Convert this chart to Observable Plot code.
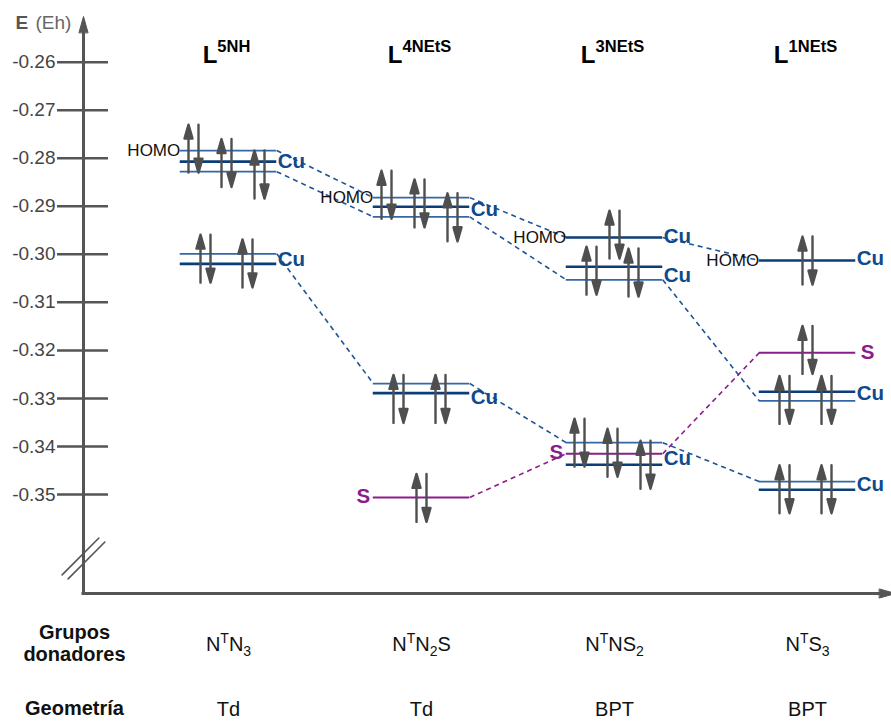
<!DOCTYPE html>
<html><head><meta charset="utf-8">
<script src="https://cdn.jsdelivr.net/npm/d3@7"></script>
<script src="https://cdn.jsdelivr.net/npm/@observablehq/plot@0.6"></script>
<style>html,body{margin:0;padding:0;background:#fff;} #chart svg{display:block;}</style>
</head><body><div id="chart"></div>
<script>
// ---------- data ----------
const ligandSuperscripts = ["5NH", "4NEtS", "3NEtS", "1NEtS"];
const donorGroups = ["N^{T}N_{3}", "N^{T}N_{2}S", "N^{T}NS_{2}", "N^{T}S_{3}"];
const geometries = ["Td", "Td", "BPT", "BPT"];
const yTicks = [-0.26, -0.27, -0.28, -0.29, -0.30, -0.31, -0.32, -0.33, -0.34, -0.35];

// orbital levels (column index, energy in Eh, kind)
const levelCol    = [0, 0, 0, 0, 0,   1, 1, 1, 1, 1, 1,   2, 2, 2, 2, 2, 2,   3, 3, 3, 3, 3, 3];
const levelEnergy = [-0.2784, -0.2807, -0.2828, -0.2999, -0.3020,
                     -0.2882, -0.2901, -0.2922, -0.3269, -0.3289, -0.3506,
                     -0.2965, -0.3026, -0.3053, -0.3392, -0.3415, -0.3438,
                     -0.3013, -0.3205, -0.3286, -0.3305, -0.3473, -0.3490];
const levelKind   = ["light", "dark", "light", "light", "dark",
                     "light", "dark", "light", "light", "dark", "S",
                     "dark", "dark", "light", "light", "S", "dark",
                     "dark", "S", "dark", "light", "light", "dark"];

// correlation lines between levels (indices into the level arrays)
const linkFrom = [0, 2, 3, 5, 7, 8, 11, 13, 14, 10, 15];
const linkTo   = [5, 7, 8, 11, 13, 14, 17, 20, 21, 15, 18];

// electron pairs (column, energy of pair centre, group of pairs)
const pairCol    = [0, 0, 0,  0, 0,  1, 1, 1,  1, 1,  1,  2,  2, 2,  2, 2, 2,  3,  3,  3, 3,  3, 3];
const pairEnergy = [-0.2780, -0.2810, -0.2834, -0.3009, -0.3019,
                    -0.2876, -0.2894, -0.2923, -0.3301, -0.3301, -0.3507,
                    -0.2959, -0.3034, -0.3038, -0.3392, -0.3413, -0.3438,
                    -0.3013, -0.3199, -0.3303, -0.3303, -0.3489, -0.3489];
const pairGroup  = [0, 0, 0,  1, 1,  2, 2, 2,  3, 3,  4,  5,  6, 6,  7, 7, 7,  8,  9,  10, 10,  11, 11];

// labels
const homoLevels = [0, 5, 11, 17];
const cuLabelCol    = [0, 0, 1, 1, 2, 2, 2, 3, 3, 3];
const cuLabelEnergy = [-0.2807, -0.3010, -0.2906, -0.3298, -0.2962, -0.3045, -0.3425, -0.3008, -0.3290, -0.3479];
const sLabelCol    = [1, 2, 3];
const sLabelEnergy = [-0.3504, -0.3413, -0.3205];
const sLabelSide   = ["left", "left", "right"];
const breakEnergy = -0.3633;

// ---------- layout / scales ----------
const W = 891, H = 721;
const mLeft = 83, mTop = 16, mBottom = 128, mRight = 0;
const xDomain = [-0.7513, 3.4352];
const yDomain = [-0.3706, -0.2505];
const PX = (W - mLeft - mRight) / (xDomain[1] - xDomain[0]); // px per column unit
const HALF = 0.25;

const levels = levelEnergy.map((e, i) => ({col: levelCol[i], e, kind: levelKind[i]}));
const links = linkFrom.map((f, i) => ({a: levels[f], b: levels[linkTo[i]]}));

const groupSize = {};
pairGroup.forEach(g => groupSize[g] = (groupSize[g] || 0) + 1);
const seen = {};
const spacing = {1: 0, 2: 42, 3: 33};
const pairs = pairEnergy.map((e, i) => {
  const g = pairGroup[i], n = groupSize[g];
  const k = seen[g] = (seen[g] === undefined ? 0 : seen[g] + 1);
  const off = n === 1 ? 0 : ((k - (n - 1) / 2) * spacing[n] - 2) / PX;
  return {x: pairCol[i] + off, e};
});
const cuLabels = cuLabelCol.map((c, i) => ({col: c, e: cuLabelEnergy[i]}));
const sLabels = sLabelCol.map((c, i) => ({col: c, e: sLabelEnergy[i], side: sLabelSide[i]}));
const columns = ligandSuperscripts.map((s, i) => ({i, top: `L^{${s}}`, donor: donorGroups[i], geo: geometries[i]}));

const arrowShape = (headLen, headHalf) => ({
  draw(ctx, l) {
    const b = -(l - headLen);
    ctx.moveTo(0, 0); ctx.lineTo(0, b);
    ctx.moveTo(-headHalf, b); ctx.lineTo(0, -l); ctx.lineTo(headHalf, b); ctx.closePath();
  }
});
const lineShape = {draw(ctx, l) { ctx.moveTo(0, 0); ctx.lineTo(0, -l); }};

const GRAY = "#555";
const DARK = "#0b3d78", LIGHT = "#3467a8", PURPLE = "#8b1c8b";
const CU_TEXT = "#0e4a8c";

const plot = Plot.plot({
  width: W, height: H,
  marginLeft: mLeft, marginTop: mTop, marginBottom: mBottom, marginRight: mRight,
  x: {domain: xDomain, axis: null},
  y: {domain: yDomain, axis: null},
  style: {fontFamily: "'Liberation Sans', Arial, sans-serif", fontSize: "16px", background: "#fff", overflow: "visible"},
  marks: [
    // axes
    Plot.ruleY(yTicks, {y: d => d, x1: xDomain[0] - 26 / PX, x2: xDomain[0] + 25 / PX, stroke: GRAY, strokeWidth: 2.5}),
    Plot.axisY({ticks: yTicks, tickSize: 0, tickPadding: 28, tickFormat: d => d.toFixed(2), fontSize: 19, color: "#444", label: null}),
    Plot.ruleX([xDomain[0]], {stroke: GRAY, strokeWidth: 3, insetTop: 10}),
    Plot.ruleY([yDomain[0]], {stroke: GRAY, strokeWidth: 3, insetLeft: -1.5}),
    Plot.vector([0], {frameAnchor: "top-left", anchor: "end", length: 18, shape: arrowShape(16, 4.5), stroke: GRAY, fill: GRAY, strokeWidth: 1}),
    Plot.vector([0], {frameAnchor: "bottom-right", anchor: "end", rotate: 90, length: 18, shape: arrowShape(16, 4.5), stroke: GRAY, fill: GRAY, strokeWidth: 1, dx: 4}),
    Plot.vector([breakEnergy], {y: d => d, frameAnchor: "left", anchor: "middle", rotate: 45, length: 52, shape: lineShape, stroke: GRAY, strokeWidth: 1.6, dx: -3, dy: -2}),
    Plot.vector([breakEnergy], {y: d => d, frameAnchor: "left", anchor: "middle", rotate: 45, length: 52, shape: lineShape, stroke: GRAY, strokeWidth: 1.6, dx: 3, dy: 2}),
    Plot.text(["E"], {frameAnchor: "top-left", dx: -68, dy: 12, textAnchor: "start", lineAnchor: "bottom", fontWeight: "bold", fontSize: 19, fill: "#555"}),
    Plot.text(["(Eh)"], {frameAnchor: "top-left", dx: -48, dy: 12, textAnchor: "start", lineAnchor: "bottom", fontSize: 19, fill: "#666"}),

    // correlation (dashed) lines
    Plot.link(links.filter(d => d.a.kind !== "S"), {x1: d => d.a.col + HALF, y1: d => d.a.e, x2: d => d.b.col - HALF, y2: d => d.b.e, stroke: "#1d5496", strokeWidth: 1.6, strokeDasharray: "5,4"}),
    Plot.link(links.filter(d => d.a.kind === "S"), {x1: d => d.a.col + HALF, y1: d => d.a.e, x2: d => d.b.col - HALF, y2: d => d.b.e, stroke: PURPLE, strokeWidth: 1.6, strokeDasharray: "5,4"}),

    // levels
    Plot.ruleY(levels.filter(d => d.kind === "light"), {y: "e", x1: d => d.col - HALF, x2: d => d.col + HALF, stroke: LIGHT, strokeWidth: 1.7}),
    Plot.ruleY(levels.filter(d => d.kind === "dark"), {y: "e", x1: d => d.col - HALF, x2: d => d.col + HALF, stroke: DARK, strokeWidth: 2.6}),
    Plot.ruleY(levels.filter(d => d.kind === "S"), {y: "e", x1: d => d.col - HALF, x2: d => d.col + HALF, stroke: PURPLE, strokeWidth: 2}),

    // electron pairs
    Plot.vector(pairs, {x: "x", y: "e", length: 48, rotate: 0, anchor: "middle", shape: arrowShape(14, 4), stroke: "#4f4f4f", fill: "#4f4f4f", strokeWidth: 2.4, dx: -5}),
    Plot.vector(pairs, {x: "x", y: "e", length: 48, rotate: 180, anchor: "middle", shape: arrowShape(14, 4), stroke: "#4f4f4f", fill: "#4f4f4f", strokeWidth: 2.4, dx: 5}),

    // labels
    Plot.text(homoLevels.map(i => levels[i]), {x: d => d.col - HALF, y: "e", text: () => "HOMO", textAnchor: "end", dx: 0, fontSize: 17, fill: "#111"}),
    Plot.text(cuLabels, {x: d => d.col + HALF, y: "e", text: () => "Cu", textAnchor: "start", dx: 1, fontSize: 20.5, fontWeight: "bold", fill: CU_TEXT}),
    Plot.text(sLabels.filter(d => d.side === "left"), {x: d => d.col - HALF, y: "e", text: () => "S", textAnchor: "end", dx: -3, fontSize: 20.5, fontWeight: "bold", fill: PURPLE}),
    Plot.text(sLabels.filter(d => d.side === "right"), {x: d => d.col + HALF, y: "e", text: () => "S", textAnchor: "start", dx: 5, fontSize: 20.5, fontWeight: "bold", fill: PURPLE}),
    Plot.text(columns, {x: "i", text: "top", frameAnchor: "top", dy: 46, lineAnchor: "bottom", fontSize: 24, fontWeight: "bold", fill: "#000", ariaDescription: "rich-top", dx: -2}),
    Plot.text(columns, {x: "i", text: "donor", frameAnchor: "bottom", dy: 57, lineAnchor: "bottom", fontSize: 20, fill: "#111", ariaDescription: "rich-bottom"}),
    Plot.text(columns, {x: "i", text: "geo", frameAnchor: "bottom", dy: 122, lineAnchor: "bottom", fontSize: 20, fill: "#111"}),
    Plot.text(["Grupos\ndonadores"], {frameAnchor: "bottom-left", dx: -9, dy: 67, lineAnchor: "bottom", lineHeight: 1.1, textAnchor: "middle", fontSize: 20, fontWeight: "bold", fill: "#111"}),
    Plot.text(["Geometría"], {frameAnchor: "bottom-left", dx: -9, dy: 121, lineAnchor: "bottom", textAnchor: "middle", fontSize: 20, fontWeight: "bold", fill: "#111"})
  ]
});

// rich text: ^{...} superscript, _{...} subscript
function enrich(svg, desc, scriptSize, supShift, subShift) {
  const ns = "http://www.w3.org/2000/svg";
  svg.querySelectorAll(`g[aria-description="${desc}"] text`).forEach(t => {
    const src = t.textContent;
    t.textContent = "";
    const re = /([\^_])\{([^}]*)\}|([^\^_]+)/g;
    let m, cur = 0;
    while ((m = re.exec(src))) {
      const ts = document.createElementNS(ns, "tspan");
      let target = 0;
      if (m[3] !== undefined) { ts.textContent = m[3]; }
      else {
        ts.textContent = m[2];
        ts.setAttribute("font-size", scriptSize);
        target = m[1] === "^" ? -supShift : subShift;
      }
      if (target - cur !== 0) ts.setAttribute("dy", target - cur);
      cur = target;
      t.appendChild(ts);
    }
  });
}
enrich(plot, "rich-top", 16.5, 11, 0);
enrich(plot, "rich-bottom", 14, 8, 5);
document.getElementById("chart").appendChild(plot);
</script></body></html>
